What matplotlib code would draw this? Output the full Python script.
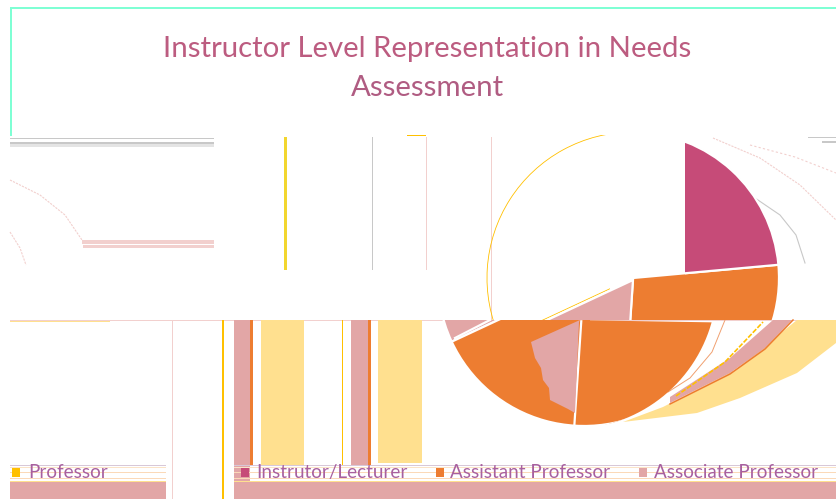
import matplotlib
matplotlib.use("Agg")
import matplotlib.pyplot as plt
import numpy as np
from matplotlib.patches import Polygon, Rectangle

plt.rcParams["font.family"] = ["Lato", "DejaVu Sans"]

# share of respondents
levels = ["Professor", "Instrutor/Lecturer", "Assistant Professor", "Associate Professor"]
shares = [32, 23.5, 27.5, 17]
colors = ["#FFFFFF", "#C64B78", "#ED7D31", "#E2A6A6"]
legend_colors = ["#FFC000", "#C64B78", "#ED7D31", "#E2A6A6"]
title_lines = ["Instructor Level Representation in Needs", "Assessment"]

PINK = "#E2A6A6"
PALE_PINK = "#F2D0CE"
ORANGE = "#ED7D31"
YELLOW = "#FFE08F"
GOLD = "#FFC000"
GRAY = "#C8C8C8"

fig = plt.figure(figsize=(8.36, 4.99), dpi=100)
ax = fig.add_axes([0, 0, 1, 1])


def flip(y):
    return 499 - y


def box(x0, y0, x1, y1, color, z=1, **kw):
    ax.add_patch(Rectangle((x0, flip(y1)), x1 - x0, y1 - y0, fc=color, ec="none", zorder=z, **kw))


def clip_rect(x0, y0, x1, y1):
    return Rectangle((x0, flip(y1)), x1 - x0, y1 - y0, transform=ax.transData)


def slice_of(idx, cx, cy, start, clip, edge="white", lw=1.6, face=None, z=3):
    wedges, _ = ax.pie(
        shares, colors=colors, startangle=start, counterclock=False,
        center=(cx, flip(cy)), radius=146, frame=True,
        wedgeprops={"edgecolor": edge, "linewidth": lw},
    )
    for i, w in enumerate(wedges):
        if i != idx:
            w.remove()
    w = wedges[idx]
    if face is not None:
        w.set_facecolor(face)
    w.set_zorder(z)
    w.set_clip_on(True)  # pie turns clipping off
    w.set_clip_path(clip)
    return w


def blob(points, color, z=2):
    pts = np.array(points, dtype=float)
    pts[:, 1] = flip(pts[:, 1])
    ax.add_patch(Polygon(pts, closed=True, fc=color, ec="none", zorder=z))


def curve(points, color, lw=0.8, ls="-", z=2):
    pts = np.array(points, dtype=float)
    ax.plot(pts[:, 0], flip(pts[:, 1]), color=color, lw=lw, ls=ls, zorder=z)


# upper band of the pie
slice_of(0, 633, 278, -155, clip_rect(480, 135, 610, 320), edge=GOLD, lw=0.6, face="none", z=2)
slice_of(1, 633, 278, -155, clip_rect(685, 130, 800, 320), z=4)
slice_of(2, 633, 278, -155, clip_rect(625, 130, 800, 320), z=3)
slice_of(3, 633, 280, -155, clip_rect(500, 270, 640, 320), z=3)

# lower band, displaced to the left
slice_of(3, 584, 280, -216.2, clip_rect(430, 320, 500, 360), z=3)
slice_of(2, 584, 280, -216.2, clip_rect(430, 320, 590, 440), z=3)
theta = np.linspace(-0.5, 1.9, 60)
arc = np.column_stack([571 + 146 * np.cos(theta), flip(283 + 146 * np.sin(theta))])
arc = arc[arc[:, 1] <= flip(320)]
lower = Polygon(np.vstack([[[570, flip(320)]], arc]), closed=True, transform=ax.transData)
slice_of(2, 584, 280, -155, lower, z=4)

# smeared wedge fragments
blob([(531, 342), (580, 320), (579, 322), (575, 413), (568, 409), (550, 400), (549, 388),
      (543, 380), (541, 368), (535, 358)], PINK, z=5)
blob([(663, 407), (735, 370), (797, 320), (836, 320), (836, 343), (797, 373), (740, 398),
      (697, 413), (623, 422)], YELLOW)
blob([(670, 397), (730, 358), (773, 320), (792, 320), (765, 348), (730, 373), (670, 403)], PINK)
curve([(670, 404), (730, 374), (765, 349), (793, 320)], ORANGE, lw=1.1)
curve([(676, 396), (725, 362), (763, 322)], GOLD, lw=1.2, ls=(0, (3, 1)))
curve([(668, 392), (690, 378), (712, 352), (725, 320)], "#F0A070", lw=0.7)
curve([(755, 198), (780, 215), (796, 235), (805, 263)], GRAY)
curve([(713, 138), (760, 158), (800, 185), (836, 220)], PALE_PINK, ls=(0, (2, 1)))
curve([(750, 145), (795, 157), (836, 173)], PALE_PINK, ls=(0, (2, 2)))
curve([(10, 180), (40, 195), (65, 215), (82, 240)], PALE_PINK, ls=(0, (2, 1)))
curve([(10, 232), (20, 248), (26, 265)], PALE_PINK, ls=(0, (2, 1)))
curve([(490, 320), (455, 338)], "white", lw=1.6, z=6)

# title frame
box(10, 7, 836, 9, "#7FFFD4")
box(10, 7, 12, 136, "#7FFFD4")

# horizontal and vertical streaks above the band
box(10, 138, 214, 139, GRAY)
box(10, 142, 214, 144, GRAY)
box(10, 144, 214, 147, "#E4E4E4")
box(82, 240, 214, 244, PALE_PINK)
box(83, 245, 214, 248, PALE_PINK)
box(284, 137, 287, 270, "#F2D62E")
box(372, 137, 373, 270, GRAY)
box(426, 137, 427, 270, PALE_PINK)
box(491, 137, 492, 320, PALE_PINK)
box(407, 135, 426, 136, GOLD)
box(808, 137, 836, 138, GRAY)
box(822, 141, 836, 143, GRAY)

# columns in the lower band
box(10, 320, 836, 321, PALE_PINK)
box(10, 321, 110, 322, YELLOW)
box(172, 320, 173, 499, PALE_PINK)
box(222, 320, 224, 499, GOLD)
box(234, 320, 250, 499, PINK)
box(250, 320, 253, 465, ORANGE)
box(261, 320, 304, 465, YELLOW)
box(342, 320, 343, 465, GOLD)
box(351, 320, 368, 465, PINK)
box(368, 320, 371, 465, ORANGE)
box(378, 320, 422, 463, YELLOW)

# legend streaks
for x0, x1 in [(10, 166), (234, 836)]:
    box(x0, 465, x1, 466, "#D8C8D8")
    box(x0, 467, x1, 468, "#FBE3C8")
    box(x0, 472, x1, 473, "#FBD9B8")
    box(x0, 478, x1, 479, "#FBD9B8")
    box(x0, 481, x1, 482, YELLOW)
    box(x0, 482, x1, 499, PINK)

# legend
marker_x = [12, 241, 436, 639]
label_x = [28, 256, 450, 654]
for name, col, mx, lx in zip(levels, legend_colors, marker_x, label_x):
    box(mx, 468, mx + 8, 477, col, z=7)
    ax.text(lx, flip(478), name, fontsize=13.6, color="#A8609F", va="baseline", ha="left", zorder=8)

ax.text(427, flip(57), title_lines[0], fontsize=21.2, color="#BC5C80", ha="center", va="baseline", zorder=8)
ax.text(427, flip(96), title_lines[1], fontsize=21.2, color="#B05C82", ha="center", va="baseline", zorder=8)

ax.set_xlim(0, 836)
ax.set_ylim(0, 499)
ax.set_aspect("auto")
ax.axis("off")

fig.savefig("out.png", dpi=100)
